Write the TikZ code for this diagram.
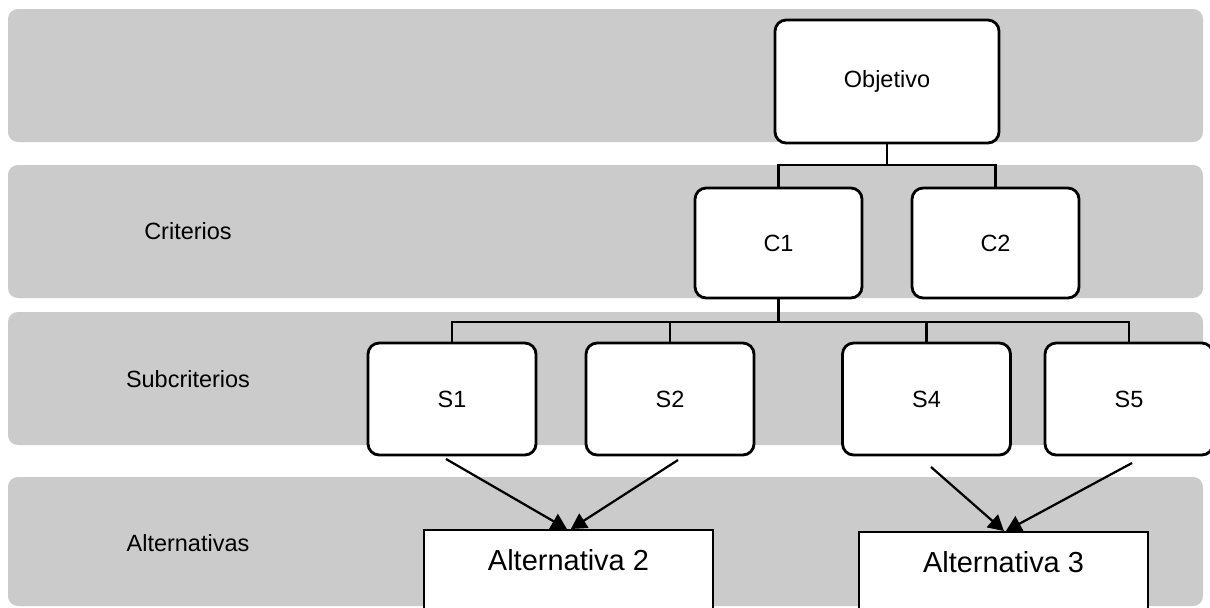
\documentclass[tikz,border=0pt]{standalone}
\usepackage{fontspec}
\setmainfont{Liberation Sans}
\usetikzlibrary{arrows.meta}
\definecolor{bandgray}{HTML}{CBCBCB}
\tikzset{
  band/.style={fill=bandgray, draw=none, rounded corners=7pt},
  rowlabel/.style={font=\fontsize{16.7}{20}\selectfont, inner sep=0pt},
  tbox/.style={draw=black, line width=2pt, fill=white, rounded corners=8pt,
    font=\fontsize{16.7}{20}\selectfont, inner sep=0pt},
  altbox/.style={draw=black, line width=1.6pt, fill=white, anchor=north,
    font=\fontsize{20.6}{24}\selectfont, inner ysep=0pt, inner xsep=0pt,
    text height=1cm, text depth=2cm},
  conn/.style={draw=black, line width=1.7pt},
  arr/.style={draw=black, line width=1.6pt, -{Triangle[length=11pt,width=12pt]}}
}
\begin{document}
\begin{tikzpicture}[x=0.025cm, y=-0.025cm]
  \useasboundingbox (0,0) rectangle (1210,607);
  \clip (0,0) rectangle (1210,607);

  % horizontal level bands
  \fill[band] (8,9) rectangle (1203,142);
  \fill[band] (8,165) rectangle (1203,298);
  \fill[band] (8,312) rectangle (1203,445);
  \fill[band] (8,477) rectangle (1203,606);

  % level labels
  \node[rowlabel] (lcrit) at (188,231) {Criterios};
  \node[rowlabel] (lsub) at (188,379) {Subcriterios};
  \node[rowlabel] (lalt) at (188,543) {Alternativas};

  % hierarchy boxes
  \node[tbox, minimum width=5.6cm, minimum height=3.075cm] (obj) at (887,81.5) {Objetivo};
  \node[tbox, minimum width=4.175cm, minimum height=2.75cm] (c1) at (778.5,243) {C1};
  \node[tbox, minimum width=4.175cm, minimum height=2.75cm] (c2) at (995.5,243) {C2};
  \node[tbox, minimum width=4.2cm, minimum height=2.8cm] (s1) at (452,399) {S1};
  \node[tbox, minimum width=4.2cm, minimum height=2.8cm] (s2) at (670,399) {S2};
  \node[tbox, minimum width=4.2cm, minimum height=2.8cm] (s4) at (926.5,399) {S4};
  \node[tbox, minimum width=4.2cm, minimum height=2.8cm] (s5) at (1129,399) {S5};

  % alternatives
  \node[altbox, minimum width=7.225cm] (alt2) at (568.5,529) {Alternativa 2};
  \node[altbox, minimum width=7.225cm] (alt3) at (1003.5,531) {Alternativa 3};

  % tree connectors
  \coordinate (j1) at (887,165);
  \coordinate (j2) at (778.5,322);
  \draw[conn] (obj.south) -- (j1) -| (c1.north);
  \draw[conn] (j1) -| (c2.north);
  \draw[conn] (c1.south) -- (j2) -| (s1.north);
  \draw[conn] (j2) -| (s2.north);
  \draw[conn] (j2) -| (s4.north);
  \draw[conn] (j2) -| (s5.north);

  % arrows to alternatives
  \coordinate (a1) at (446,459);
  \coordinate (a2) at (678,460);
  \coordinate (a4) at (931,467);
  \coordinate (a5) at (1132,463);
  \draw[arr] (a1) -- ([xshift=-0.04cm]alt2.north);
  \draw[arr] (a2) -- ([xshift=0.06cm]alt2.north);
  \draw[arr] (a4) -- ([xshift=0.01cm]alt3.north);
  \draw[arr] (a5) -- ([xshift=0.06cm]alt3.north);
\end{tikzpicture}
\end{document}
